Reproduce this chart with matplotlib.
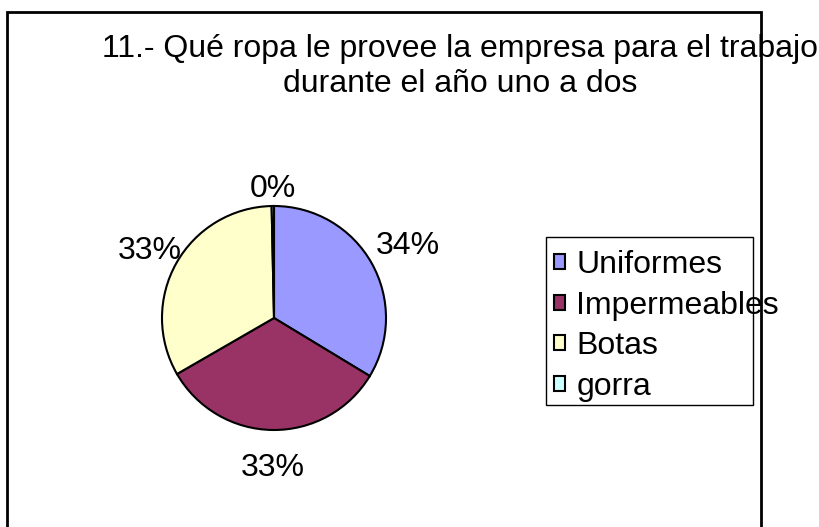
import matplotlib.pyplot as plt
import numpy as np
from matplotlib.patches import Rectangle

plt.rcParams['font.family'] = ['Liberation Sans', 'DejaVu Sans']

categories = ["Uniformes", "Impermeables", "Botas", "gorra"]
counts = [100, 98, 98, 1]
colors = ["#9999FF", "#993366", "#FFFFCC", "#CCFFFF"]
title = "11.- Qué ropa le provee la empresa para el trabajo\ndurante el año uno a dos"

# label distance from pie centre, in pie radii
label_dist = [1.37, 1.31, 1.27, 1.18]

W, H = 819, 527
fig = plt.figure(figsize=(W / 100, H / 100), dpi=100)
ax = fig.add_axes([0, 0, 1, 1])

# pixel positions measured from the top-left corner
cx, cy, r = 274, H - 318, 112
wedges, _ = ax.pie(counts, colors=colors, startangle=90, counterclock=False,
                   center=(cx, cy), radius=r,
                   wedgeprops=dict(edgecolor="black", linewidth=1.5))
ax.set_xlim(0, W)
ax.set_ylim(0, H)
ax.set_aspect("equal")
ax.axis("off")

# outer chart frame
ax.add_patch(Rectangle((7, -10), 754, H - 12 + 10, fill=False, edgecolor="black", lw=2, clip_on=False))

total = sum(counts)
fs = 23
for w, c, d in zip(wedges, counts, label_dist):
    mid = np.deg2rad((w.theta1 + w.theta2) / 2)
    x = cx + d * r * np.cos(mid)
    y = cy + d * r * np.sin(mid)
    ax.text(x, y - 3, f"{round(100 * c / total):.0f}%", ha="center", va="center", fontsize=fs)

fig.text(460 / W, 1 - 34 / H, title, ha="center", va="top", fontsize=fs, linespacing=1.2)

# legend box has a fixed size, the long label runs over its edge
ax.add_patch(Rectangle((546, H - 405), 207, 168, fill=False, edgecolor="black", lw=1))
leg = ax.legend(wedges, categories, loc="upper left", bbox_to_anchor=(554 / W, 1 - 250 / H),
                bbox_transform=fig.transFigure, fontsize=fs, frameon=False,
                borderaxespad=0, handlelength=0.35, handleheight=0.35, handletextpad=0.35,
                labelspacing=0.33, borderpad=0)

fig.savefig("out.png", dpi=100)
